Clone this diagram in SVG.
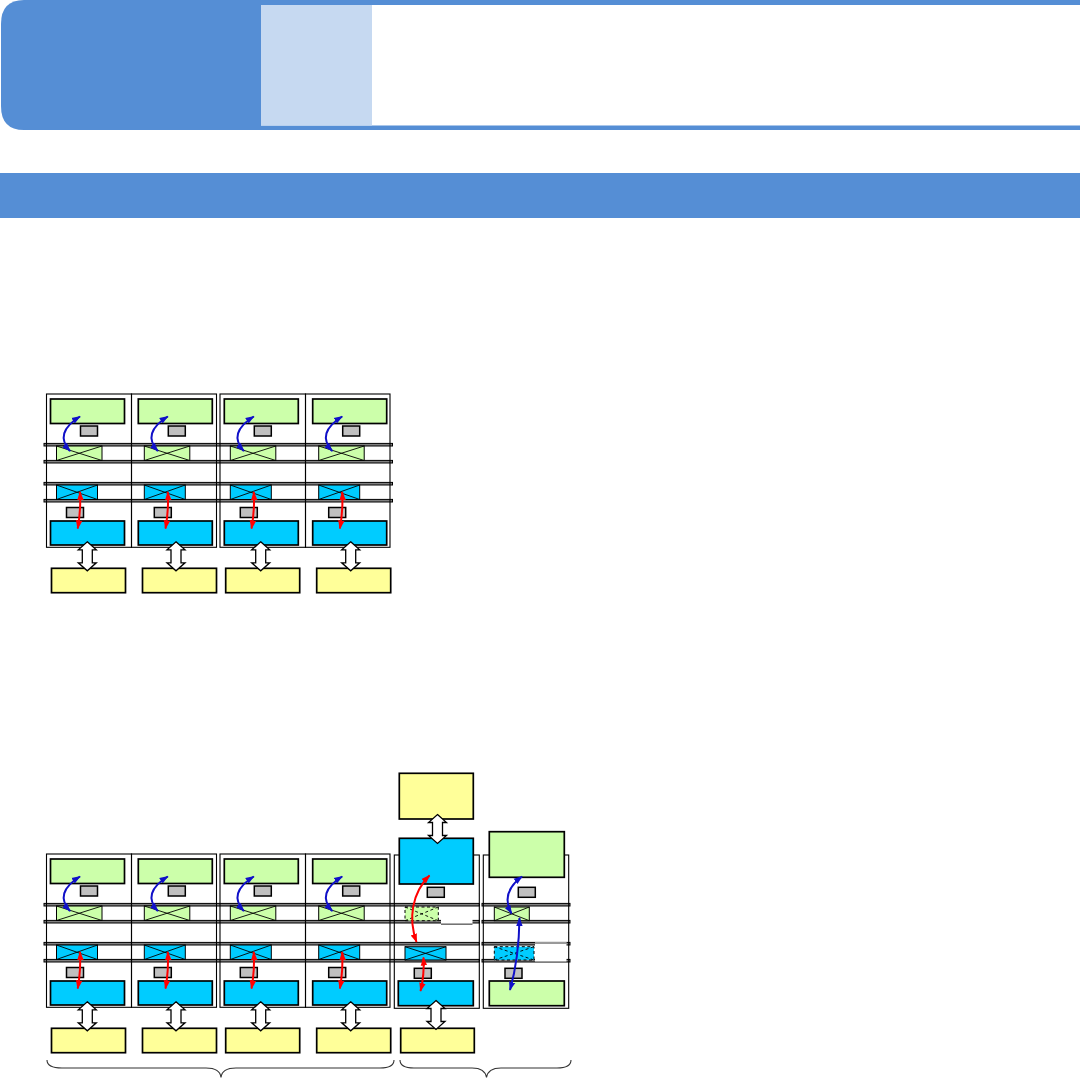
<svg xmlns="http://www.w3.org/2000/svg" xmlns:xlink="http://www.w3.org/1999/xlink" width="1080" height="1078" viewBox="0 0 1080 1078">
<style>
.box{fill:none;stroke:#000;stroke-width:1.1}
.g{fill:#CCFFAA;stroke:#000;stroke-width:1.7}
.b{fill:#00CCFF;stroke:#000;stroke-width:1.7}
.y{fill:#FFFF99;stroke:#000;stroke-width:1.7}
.gr{fill:#C0C0C0;stroke:#000;stroke-width:1.5}
.gx{fill:#CCFFAA;stroke:#000;stroke-width:1}
.bx{fill:#00CCFF;stroke:#000;stroke-width:1}
.dash{stroke-dasharray:3 2.5}
.x{stroke:#000;stroke-width:0.9;fill:none}
.rail{fill:#808080;stroke:#000;stroke-width:1}
.dbl{fill:#fff;stroke:#000;stroke-width:1.3}
.ab{fill:none;stroke:#1010C8;stroke-width:2;marker-start:url(#hb);marker-end:url(#hb)}
.ar{fill:none;stroke:#FF0000;stroke-width:2;marker-start:url(#hr);marker-end:url(#hr)}
.brace{fill:none;stroke:#333;stroke-width:1.1}
</style>
<defs>
<marker id="hb" viewBox="0 0 10 10" refX="9" refY="5" markerWidth="9" markerHeight="9" markerUnits="userSpaceOnUse" orient="auto-start-reverse"><path d="M0,1.4 L10,5 L0,8.6 Z" fill="#1010C8"/></marker>
<marker id="hr" viewBox="0 0 10 10" refX="9" refY="5" markerWidth="9" markerHeight="9" markerUnits="userSpaceOnUse" orient="auto-start-reverse"><path d="M0,1.4 L10,5 L0,8.6 Z" fill="#FF0000"/></marker>
<path id="dblp" class="dbl" d="M0,0 L9,8 L5,8 L5,21 L9,21 L0,29 L-9,21 L-5,21 L-5,8 L-9,8 Z"/>
</defs>

<g id="header">
<path d="M24,0 H261 V130 H24 Q1,130 1,106 V24 Q1,0 24,0 Z" fill="#558ED5"/>
<rect x="261" y="0" width="819" height="5" fill="#558ED5"/>
<rect x="261" y="125.5" width="819" height="4.5" fill="#558ED5"/>
<rect x="261" y="5" width="111" height="120.5" fill="#C6D9F1"/>
</g>
<g id="band"><rect x="0" y="173" width="1080" height="45" fill="#558ED5"/></g>

<g id="rails">
<rect class="rail" x="44" y="443.4" width="348.5" height="2.6"/>
<rect class="rail" x="44" y="460.4" width="348.5" height="2.6"/>
<rect class="rail" x="44" y="482.4" width="348.5" height="2.6"/>
<rect class="rail" x="44" y="499.4" width="348.5" height="2.6"/>
<rect class="rail" x="44" y="903.4" width="435.3" height="2.6"/>
<rect class="rail" x="44" y="920.4" width="435.3" height="2.6"/>
<rect class="rail" x="44" y="942.4" width="435.3" height="2.6"/>
<rect class="rail" x="44" y="959.4" width="435.3" height="2.6"/>
<rect class="rail" x="482" y="903.4" width="88" height="2.6"/>
<rect class="rail" x="482" y="920.4" width="88" height="2.6"/>
<rect class="rail" x="482" y="942.4" width="88" height="2.6"/>
<rect class="rail" x="482" y="959.4" width="88" height="2.6"/>
</g>

<!-- Top diagram -->
<g id="top-col1" transform="translate(50.5,0)">
<rect class="box" x="-4" y="394" width="85" height="153.3"/>
<rect class="g" x="0" y="399" width="74" height="24.5"/>
<rect class="gr" x="30" y="426" width="17" height="10"/>
<rect class="gx" x="6" y="446" width="45.5" height="14.5"/><path class="x" d="M6,446 L51.5,460.5 M6,460.5 L51.5,446"/>
<rect class="bx" x="6" y="485" width="41" height="14.5"/><path class="x" d="M6,485 L47,499.5 M6,499.5 L47,485"/>
<rect class="gr" x="16" y="507.5" width="17" height="10"/>
<rect class="b" x="0" y="521" width="74" height="24"/>
<rect class="y" x="1" y="568.3" width="74" height="24.4"/>
</g>
<g id="top-col2" transform="translate(138.3,0)">
<rect class="box" x="-6.8" y="394" width="85" height="153.3"/>
<rect class="g" x="0" y="399" width="74" height="24.5"/>
<rect class="gr" x="30" y="426" width="17" height="10"/>
<rect class="gx" x="6" y="446" width="45.5" height="14.5"/><path class="x" d="M6,446 L51.5,460.5 M6,460.5 L51.5,446"/>
<rect class="bx" x="6" y="485" width="41" height="14.5"/><path class="x" d="M6,485 L47,499.5 M6,499.5 L47,485"/>
<rect class="gr" x="16" y="507.5" width="17" height="10"/>
<rect class="b" x="0" y="521" width="74" height="24"/>
<rect class="y" x="4.2" y="568.3" width="74" height="24.4"/>
</g>
<g id="top-col3" transform="translate(224.3,0)">
<rect class="box" x="-4.3" y="394" width="85.5" height="153.3"/>
<rect class="g" x="0" y="399" width="74" height="24.5"/>
<rect class="gr" x="30" y="426" width="17" height="10"/>
<rect class="gx" x="6" y="446" width="45.5" height="14.5"/><path class="x" d="M6,446 L51.5,460.5 M6,460.5 L51.5,446"/>
<rect class="bx" x="6" y="485" width="41" height="14.5"/><path class="x" d="M6,485 L47,499.5 M6,499.5 L47,485"/>
<rect class="gr" x="16" y="507.5" width="17" height="10"/>
<rect class="b" x="0" y="521" width="74" height="24"/>
<rect class="y" x="1.4" y="568.3" width="74" height="24.4"/>
</g>
<g id="top-col4" transform="translate(312.7,0)">
<rect class="box" x="-7.2" y="394" width="84.5" height="153.3"/>
<rect class="g" x="0" y="399" width="74" height="24.5"/>
<rect class="gr" x="30" y="426" width="17" height="10"/>
<rect class="gx" x="6" y="446" width="45.5" height="14.5"/><path class="x" d="M6,446 L51.5,460.5 M6,460.5 L51.5,446"/>
<rect class="bx" x="6" y="485" width="41" height="14.5"/><path class="x" d="M6,485 L47,499.5 M6,499.5 L47,485"/>
<rect class="gr" x="16" y="507.5" width="17" height="10"/>
<rect class="b" x="0" y="521" width="74" height="24"/>
<rect class="y" x="4" y="568.3" width="74" height="24.4"/>
</g>

<!-- Bottom diagram -->
<g id="bot-col1" transform="translate(50.5,460)">
<rect class="box" x="-4" y="394" width="85" height="153.3"/>
<rect class="g" x="0" y="399" width="74" height="24.5"/>
<rect class="gr" x="30" y="426" width="17" height="10"/>
<rect class="gx" x="6" y="446" width="45.5" height="14.5"/><path class="x" d="M6,446 L51.5,460.5 M6,460.5 L51.5,446"/>
<rect class="bx" x="6" y="485" width="41" height="14.5"/><path class="x" d="M6,485 L47,499.5 M6,499.5 L47,485"/>
<rect class="gr" x="16" y="507.5" width="17" height="10"/>
<rect class="b" x="0" y="521" width="74" height="24"/>
<rect class="y" x="1" y="568.3" width="74" height="24.4"/>
</g>
<g id="bot-col2" transform="translate(138.3,460)">
<rect class="box" x="-6.8" y="394" width="85" height="153.3"/>
<rect class="g" x="0" y="399" width="74" height="24.5"/>
<rect class="gr" x="30" y="426" width="17" height="10"/>
<rect class="gx" x="6" y="446" width="45.5" height="14.5"/><path class="x" d="M6,446 L51.5,460.5 M6,460.5 L51.5,446"/>
<rect class="bx" x="6" y="485" width="41" height="14.5"/><path class="x" d="M6,485 L47,499.5 M6,499.5 L47,485"/>
<rect class="gr" x="16" y="507.5" width="17" height="10"/>
<rect class="b" x="0" y="521" width="74" height="24"/>
<rect class="y" x="4.2" y="568.3" width="74" height="24.4"/>
</g>
<g id="bot-col3" transform="translate(224.3,460)">
<rect class="box" x="-4.3" y="394" width="85.5" height="153.3"/>
<rect class="g" x="0" y="399" width="74" height="24.5"/>
<rect class="gr" x="30" y="426" width="17" height="10"/>
<rect class="gx" x="6" y="446" width="45.5" height="14.5"/><path class="x" d="M6,446 L51.5,460.5 M6,460.5 L51.5,446"/>
<rect class="bx" x="6" y="485" width="41" height="14.5"/><path class="x" d="M6,485 L47,499.5 M6,499.5 L47,485"/>
<rect class="gr" x="16" y="507.5" width="17" height="10"/>
<rect class="b" x="0" y="521" width="74" height="24"/>
<rect class="y" x="1.4" y="568.3" width="74" height="24.4"/>
</g>
<g id="bot-col4" transform="translate(312.7,460)">
<rect class="box" x="-7.2" y="394" width="84.5" height="153.3"/>
<rect class="g" x="0" y="399" width="74" height="24.5"/>
<rect class="gr" x="30" y="426" width="17" height="10"/>
<rect class="gx" x="6" y="446" width="45.5" height="14.5"/><path class="x" d="M6,446 L51.5,460.5 M6,460.5 L51.5,446"/>
<rect class="bx" x="6" y="485" width="41" height="14.5"/><path class="x" d="M6,485 L47,499.5 M6,499.5 L47,485"/>
<rect class="gr" x="16" y="507.5" width="17" height="10"/>
<rect class="b" x="0" y="521" width="74" height="24"/>
<rect class="y" x="4" y="568.3" width="74" height="24.4"/>
</g>
<g id="bot-col5">
<rect class="box" x="394.3" y="855" width="85" height="153.3"/>
<rect class="y" x="399.3" y="773.3" width="74" height="45.7"/>
<rect class="b" x="399.3" y="838.3" width="74" height="45.7"/>
<rect class="gr" x="427.3" y="887.3" width="17" height="10"/>
<rect x="441" y="918.8" width="31.5" height="5" fill="#fff"/>
<line x1="441" y1="924.2" x2="472.5" y2="924.2" stroke="#000" stroke-width="0.8"/>
<rect class="gx dash" x="405" y="907" width="33.3" height="13.7"/><path class="x dash" d="M405,907 L438.3,920.7 M405,920.7 L438.3,907"/>
<rect class="bx" x="405" y="946.7" width="41" height="13.3"/><path class="x" d="M405,946.7 L446,960 M405,960 L446,946.7"/>
<rect class="gr" x="414.3" y="968.3" width="17" height="10"/>
<rect class="b" x="398.3" y="981" width="75" height="24.7"/>
<rect class="y" x="400.7" y="1028.3" width="73.6" height="24.4"/>
</g>
<g id="bot-col6">
<rect class="box" x="483.3" y="855" width="85.4" height="153.3"/>
<rect class="g" x="489.3" y="831.7" width="75" height="45.6"/>
<rect class="gr" x="518.3" y="887.3" width="17" height="10"/>
<rect class="gx" x="494.3" y="907" width="35" height="13.7"/><path class="x" d="M494.3,907 L529.3,920.7 M494.3,920.7 L529.3,907"/>
<rect x="535" y="942" width="31.5" height="19.5" fill="#fff"/>
<line x1="535" y1="943" x2="566.5" y2="943" stroke="#000" stroke-width="0.8"/>
<rect class="bx dash" x="494.3" y="946.7" width="39.7" height="13.3"/><path class="x dash" d="M494.3,946.7 L534,960 M494.3,960 L534,946.7"/>
<rect class="gr" x="505" y="968.3" width="17" height="10"/>
<rect class="g" x="489.3" y="981" width="75" height="24.7"/>
</g>

<g id="connectors">
<use xlink:href="#dblp" x="87.3" y="541.8"/>
<use xlink:href="#dblp" x="176" y="541.8"/>
<use xlink:href="#dblp" x="260.7" y="541.8"/>
<use xlink:href="#dblp" x="350.7" y="541.8"/>
<use xlink:href="#dblp" x="87.3" y="1001.8"/>
<use xlink:href="#dblp" x="176" y="1001.8"/>
<use xlink:href="#dblp" x="260.7" y="1001.8"/>
<use xlink:href="#dblp" x="350.7" y="1001.8"/>
<use xlink:href="#dblp" x="436" y="1000.5"/>
<use xlink:href="#dblp" x="437.5" y="814.5"/>
<g transform="translate(50.5,0)"><path class="ab" d="M19.5,451 Q3,433 29.5,416.5"/><path class="ar" d="M29.5,492 Q30.5,510 27.2,528.5"/></g>
<g transform="translate(138.3,0)"><path class="ab" d="M19.5,451 Q3,433 29.5,416.5"/><path class="ar" d="M29.5,492 Q30.5,510 27.2,528.5"/></g>
<g transform="translate(224.3,0)"><path class="ab" d="M19.5,451 Q3,433 29.5,416.5"/><path class="ar" d="M29.5,492 Q30.5,510 27.2,528.5"/></g>
<g transform="translate(312.7,0)"><path class="ab" d="M19.5,451 Q3,433 29.5,416.5"/><path class="ar" d="M29.5,492 Q30.5,510 27.2,528.5"/></g>
<g transform="translate(50.5,460)"><path class="ab" d="M19.5,451 Q3,433 29.5,416.5"/><path class="ar" d="M29.5,492 Q30.5,510 27.2,528.5"/></g>
<g transform="translate(138.3,460)"><path class="ab" d="M19.5,451 Q3,433 29.5,416.5"/><path class="ar" d="M29.5,492 Q30.5,510 27.2,528.5"/></g>
<g transform="translate(224.3,460)"><path class="ab" d="M19.5,451 Q3,433 29.5,416.5"/><path class="ar" d="M29.5,492 Q30.5,510 27.2,528.5"/></g>
<g transform="translate(312.7,460)"><path class="ab" d="M19.5,451 Q3,433 29.5,416.5"/><path class="ar" d="M29.5,492 Q30.5,510 27.2,528.5"/></g>
<path class="ar" d="M429.5,875.5 C412,893 408,918 416.5,942"/>
<path class="ar" d="M423.5,957.5 Q424.5,975 420.5,991"/>
<path class="ab" d="M522,876.5 Q500,893 511.5,913.5"/>
<path class="ab" d="M519.5,918 Q519,958 510,990"/>
</g>

<g id="braces">
<path class="brace" d="M47,1060 Q47,1068 62,1068 L206,1068 Q220,1068 221,1077.5 Q222,1068 236,1068 L380,1068 Q394,1068 394,1060"/>
<path class="brace" d="M400,1060 Q400,1068 414,1068 L472,1068 Q485,1068 486.5,1077.5 Q488,1068 501,1068 L557,1068 Q571,1068 571,1060"/>
</g>
</svg>
